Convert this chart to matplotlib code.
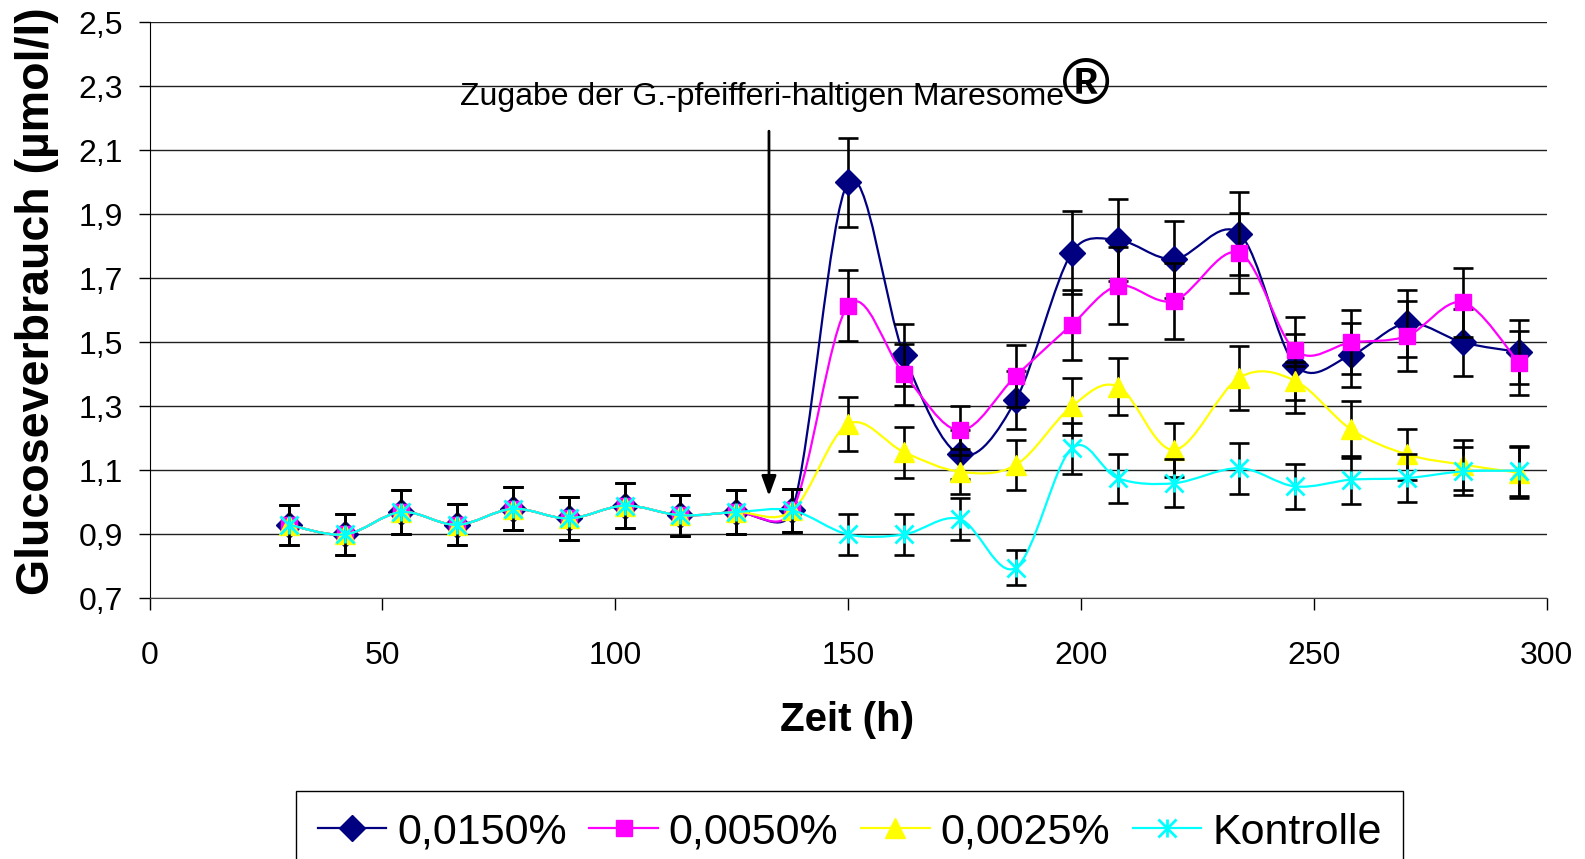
import matplotlib
matplotlib.use('agg')
import matplotlib.pyplot as plt
from matplotlib.path import Path
from matplotlib.patches import PathPatch
from matplotlib.lines import Line2D
import numpy as np

plt.rcParams['font.family'] = ['Liberation Sans', 'DejaVu Sans']

# time points (h)
zeit = [30, 42, 54, 66, 78, 90, 102, 114, 126, 138, 150, 162, 174, 186,
        198, 208, 220, 234, 246, 258, 270, 282, 294]

vor = [0.93, 0.90, 0.97, 0.93, 0.98, 0.95, 0.99, 0.96, 0.97, 0.975]
vor_err = [0.063, 0.064, 0.068, 0.064, 0.067, 0.068, 0.07, 0.064, 0.068, 0.068]

g0150 = vor + [2.00, 1.46, 1.15, 1.32, 1.78, 1.82, 1.76, 1.84, 1.43, 1.46, 1.56, 1.50, 1.47]
g0150_err = vor_err + [0.14, 0.097, 0.077, 0.09, 0.13, 0.127, 0.12, 0.13, 0.15, 0.10, 0.105, 0.105, 0.10]

g0050 = vor + [1.615, 1.40, 1.225, 1.395, 1.555, 1.677, 1.63, 1.78, 1.475, 1.50, 1.52, 1.625, 1.437]
g0050_err = vor_err + [0.11, 0.095, 0.077, 0.097, 0.11, 0.12, 0.118, 0.125, 0.05, 0.10, 0.11, 0.107, 0.10]

g0025 = vor + [1.245, 1.157, 1.096, 1.117, 1.30, 1.362, 1.164, 1.39, 1.38, 1.228, 1.15, 1.118, 1.093]
g0025_err = vor_err + [0.085, 0.08, 0.07, 0.078, 0.09, 0.09, 0.085, 0.10, 0.06, 0.09, 0.08, 0.078, 0.08]

kontrolle = vor + [0.90, 0.90, 0.948, 0.796, 1.169, 1.075, 1.06, 1.107, 1.05, 1.071, 1.076, 1.097, 1.099]
kontrolle_err = vor_err + [0.065, 0.065, 0.065, 0.055, 0.08, 0.076, 0.075, 0.08, 0.07, 0.075, 0.076, 0.075, 0.078]

labels = ['0,0150%', '0,0050%', '0,0025%', 'Kontrolle']
colors = ['#000080', '#FF00FF', '#FFFF00', '#00FFFF']

yticks = [0.7, 0.9, 1.1, 1.3, 1.5, 1.7, 1.9, 2.1, 2.3, 2.5]
xticks = [0, 50, 100, 150, 200, 250, 300]

star = Path([(-1, -1), (1, 1), (-1, 1), (1, -1), (0, -1), (0, 1)],
            [Path.MOVETO, Path.LINETO, Path.MOVETO, Path.LINETO, Path.MOVETO, Path.LINETO])
markers = [dict(marker='D', ms=13), dict(marker='s', ms=11.5),
           dict(marker='^', ms=14), dict(marker=star, ms=13, mew=2)]


def smooth_path(ax, x, y):
    # excel-like smoothed line, control points worked out in screen space
    trans = ax.transData
    pts = trans.transform(np.column_stack([x, y]).astype(float))
    n = len(pts)
    verts = [pts[0]]
    codes = [Path.MOVETO]
    for i in range(n - 1):
        p0 = pts[max(i - 1, 0)]
        p1 = pts[i]
        p2 = pts[i + 1]
        p3 = pts[min(i + 2, n - 1)]
        d12 = np.hypot(*(p2 - p1))
        d02 = np.hypot(*(p2 - p0))
        d13 = np.hypot(*(p3 - p1))
        f1 = 1 / 6 if d02 / 6 < d12 / 2 else d12 / (2 * d02)
        f2 = 1 / 6 if d13 / 6 < d12 / 2 else d12 / (2 * d13)
        verts += [p1 + f1 * (p2 - p0), p2 - f2 * (p3 - p1), p2]
        codes += [Path.CURVE4] * 3
    verts = trans.inverted().transform(np.array(verts))
    return Path(verts, codes)


fig = plt.figure(figsize=(15.85, 8.59), dpi=100)
ax = fig.add_axes([0.0944, 0.3033, 0.8814, 0.6707])
ax.set_xlim(0, 300)
ax.set_ylim(0.7, 2.5)

series = [(g0150, g0150_err), (g0050, g0050_err), (g0025, g0025_err), (kontrolle, kontrolle_err)]
for k, (vals, errs) in enumerate(series):
    z = 2 + k * 0.1
    ax.add_patch(PathPatch(smooth_path(ax, zeit, vals), facecolor='none',
                           edgecolor=colors[k], lw=1.6, zorder=z))
    ax.errorbar(zeit, vals, yerr=errs, fmt='none', ecolor='black', elinewidth=1.9,
                capsize=7.5, capthick=1.9, zorder=z + 0.02)
    m = markers[k]
    ax.plot(zeit, vals, ls='none', marker=m['marker'], ms=m['ms'],
            mew=m.get('mew', 1), color=colors[k], mec=colors[k], zorder=z + 0.05)

ax.set_xticks(xticks)
ax.set_xticklabels([str(v) for v in xticks])
ax.set_yticks(yticks)
ax.set_yticklabels([f'{v:.1f}'.replace('.', ',') for v in yticks])
ax.tick_params(axis='y', direction='out', length=8, width=1, pad=11, labelsize=23)
ax.tick_params(axis='x', direction='out', length=8.5, width=1, pad=22, labelsize=23)
ax.yaxis.grid(True, color='#202020', lw=1)
ax.set_axisbelow(True)
for s in ['top', 'right']:
    ax.spines[s].set_visible(False)
ax.spines['left'].set_color('black')
ax.spines['bottom'].set_color('#404040')

ax.text(66.6, 2.241, 'Zugabe der G.-pfeifferi-haltigen Maresome', fontsize=23,
        ha='left', va='baseline')
ax.text(201, 2.30, '\u00ae', fontsize=47, weight='bold', ha='center', va='center')
ax.annotate('', xy=(133, 1.02), xytext=(133, 2.16),
            arrowprops=dict(arrowstyle='-|>,head_length=0.6,head_width=0.22',
                            lw=2, color='black', shrinkA=0, shrinkB=0,
                            mutation_scale=20))

fig.text(37.4 / 1585, 0.65, 'Glucoseverbrauch (\u00b5mol/l)', rotation=90,
         ha='center', va='center', fontsize=33.5, weight='bold')
fig.text(847 / 1585, 1 - 719.7 / 859, 'Zeit (h)', ha='center', va='center',
         fontsize=29, weight='bold')

handles = [Line2D([0], [0], color=colors[k], lw=1.6, marker=markers[k]['marker'],
                  ms=markers[k]['ms'], mew=markers[k].get('mew', 1), mec=colors[k])
           for k in range(4)]
leg = fig.legend(handles, labels, loc='upper left', bbox_to_anchor=(296 / 1585, 1 - 791 / 859),
                 ncol=4, fontsize=31, frameon=True, fancybox=False, framealpha=1,
                 edgecolor='black', borderpad=0.5, handlelength=1.6,
                 handletextpad=0.25, columnspacing=0.52, borderaxespad=0)
leg.get_frame().set_linewidth(1)

fig.savefig('out.png', dpi=100)
